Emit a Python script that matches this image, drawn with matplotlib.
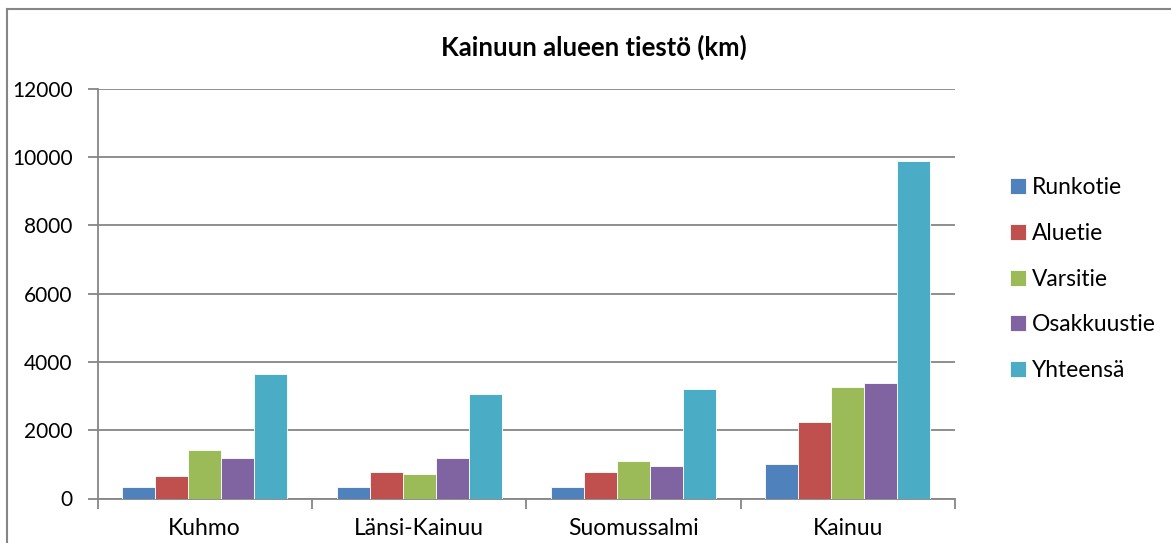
import matplotlib
matplotlib.use("Agg")
import matplotlib.pyplot as plt
import numpy as np
from matplotlib.lines import Line2D

categories = ["Kuhmo", "Länsi-Kainuu", "Suomussalmi", "Kainuu"]
series_names = ["Runkotie", "Aluetie", "Varsitie", "Osakkuustie", "Yhteensä"]
runkotie = [333, 324, 333, 1010]
aluetie = [647, 765, 765, 2235]
varsitie = [1432, 716, 1098, 3275]
osakkuustie = [1197, 1197, 961, 3392]
yhteensa = [3647, 3050, 3196, 9875]
colors = ["#4F81BD", "#C0504D", "#9BBB59", "#8064A2", "#4BACC6"]
yticks = [0, 2000, 4000, 6000, 8000, 10000, 12000]

plt.rcParams['font.family'] = ['Lato', 'DejaVu Sans']

W, H = 1171, 543
fig = plt.figure(figsize=(W / 100, H / 100), dpi=100)

# chart area border (top and left visible)
fig.add_artist(Line2D([7 / W, 1], [1 - 9 / H, 1 - 9 / H], color="#868686", lw=1.5))
fig.add_artist(Line2D([7 / W, 7 / W], [0, 1 - 9 / H], color="#868686", lw=1.5))

x0, x1, ytop, ybot = 97.5, 955, 88.5, 498.5
ax = fig.add_axes([x0 / W, 1 - ybot / H, (x1 - x0) / W, (ybot - ytop) / H])

data = [runkotie, aluetie, varsitie, osakkuustie, yhteensa]
n = len(series_names)
gap = 1.5
bw = 1.0 / (n + gap)
xs = np.arange(len(categories))
for i, (name, vals) in enumerate(zip(series_names, data)):
    offs = (i - (n - 1) / 2) * bw
    ax.bar(xs + offs, vals, width=bw, color=colors[i], label=name,
           edgecolor="white", linewidth=0.6, zorder=3)

ax.set_xlim(-0.5, len(categories) - 0.5)
ax.set_ylim(0, 12000)
ax.set_yticks(yticks)
ax.set_yticklabels([str(v) for v in yticks])
ax.yaxis.grid(True, color="#868686", linewidth=1.3, zorder=0)
ax.set_axisbelow(True)

ax.set_xticks(xs)
ax.set_xticklabels(categories)
ax.set_xticks(np.arange(len(categories) + 1) - 0.5, minor=True)
ax.tick_params(axis="x", which="major", length=0, pad=14, labelsize=16.5)
ax.tick_params(axis="x", which="minor", length=7, width=1.3, color="#868686", direction="out")
ax.tick_params(axis="y", length=7, width=1.3, color="#868686", direction="out", pad=11, labelsize=15)

for s in ["top", "right"]:
    ax.spines[s].set_visible(False)
for s in ["left", "bottom"]:
    ax.spines[s].set_color("#868686")
    ax.spines[s].set_linewidth(1.3)

fig.text(594 / W, 1 - 47 / H, "Kainuun alueen tiestö (km)", ha="center", va="center",
         fontsize=18.5, fontweight="bold")

leg = fig.legend(loc="center left", bbox_to_anchor=(1001 / W, 1 - 279 / H), frameon=False,
                 fontsize=16.4, handlelength=0.7, handleheight=0.7, handletextpad=0.25,
                 labelspacing=1.08, borderaxespad=0)

fig.savefig("out.png", dpi=100, facecolor="white")
